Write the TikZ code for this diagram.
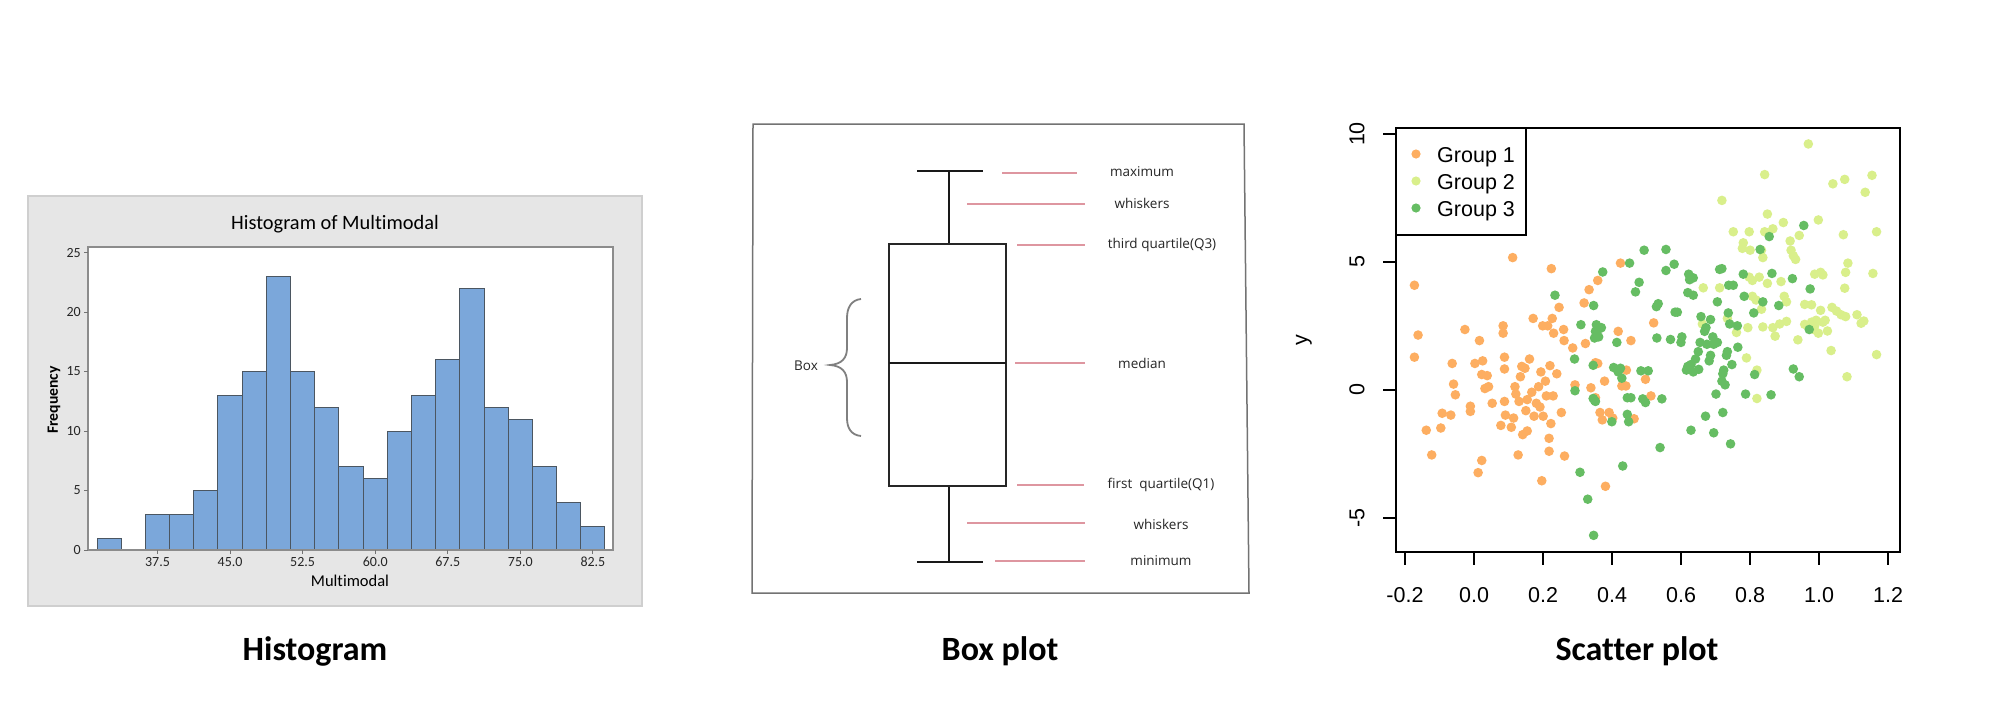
\documentclass[tikz,border=0pt]{standalone}
\usepackage{fontspec}
\newfontfamily\carlito[Ligatures=NoCommon]{Carlito}
\newfontfamily\opensans{Open Sans}
\newfontfamily\arialf{Liberation Sans}
\definecolor{panelgray}{HTML}{E6E6E6}
\definecolor{panelline}{HTML}{CFCFCF}
\definecolor{barblue}{HTML}{7BA7DA}
\definecolor{bardark}{HTML}{4B5661}
\definecolor{leadred}{RGB}{222,150,160}
\definecolor{gOne}{HTML}{FDAE61}
\definecolor{gTwo}{HTML}{D9EF8B}
\definecolor{gThree}{HTML}{66BD63}
\tikzset{
  hbar/.style={fill=barblue, draw=bardark, line width=1pt},
  htick/.style={font=\carlito\fontsize{14}{16}\selectfont, text=black!85, inner sep=0pt},
  bxlabel/.style={font=\opensans\fontsize{13.5}{16}\selectfont, anchor=base, text=black!85, inner sep=0pt},
  leader/.style={draw=leadred, line width=1.3pt},
  bxline/.style={draw=black!90, line width=2.6pt},
  caption/.style={font=\carlito\bfseries\fontsize{34}{40}\selectfont, anchor=base, inner sep=0pt},
  sctext/.style={font=\arialf\fontsize{21.5}{25}\selectfont, inner sep=0pt},
  gdotA/.style={fill=gOne},
  gdotB/.style={fill=gTwo},
  gdotC/.style={fill=gThree}
}
\begin{document}
\begin{tikzpicture}[x=1pt,y=-1pt]
\useasboundingbox (0,0) rectangle (2000,710);
\fill[white] (0,0) rectangle (2000,710);

% ================= Histogram =================
\draw[fill=panelgray, draw=panelline, line width=1.2pt] (28,196) rectangle (642,606);
\fill[white] (88,247) rectangle (613,550);
\node[font=\carlito\fontsize{20.4}{24}\selectfont, inner sep=0pt] (htitle) at (335,224) {Histogram of Multimodal};
\foreach \h [count=\i from 0] in {1,0,3,3,5,13,15,23,15,12,7,6,10,13,16,22,12,11,7,4,2}{
  \ifnum\h>0
    \draw[hbar] ({97+24.19*\i},550) rectangle ({97+24.19*(\i+1)},{550-11.9*\h});
  \fi
}
\draw[draw=black!45, line width=1.1pt] (88,247) rectangle (613,550);
\foreach \v [count=\k from 0] in {37.5,45.0,52.5,60.0,67.5,75.0,82.5}{
  \draw[black!55, line width=0.9pt] ({157.5+72.57*\k},550) -- ({157.5+72.57*\k},554);
  \node[htick] (hx\k) at ({157.5+72.57*\k},562) {\v};
}
\foreach \f [count=\k] in {0,5,10,15,20,25}{
  \draw[black!55, line width=0.9pt] (84,{550-11.9*\f}) -- (88,{550-11.9*\f});
  \node[htick, anchor=east] (hy\k) at (81,{550-11.9*\f}) {\f};
}
\node[font=\carlito\fontsize{16.5}{20}\selectfont, inner sep=0pt] (hxlab) at (350,581) {Multimodal};
\node[font=\carlito\bfseries\fontsize{15.7}{19}\selectfont, rotate=90, inner sep=0pt] (hylab) at (54,400) {Frequency};

% ================= Box plot =================
\draw[draw=black!55, line width=1.5pt] (753,124) -- (1244,124) -- (1249,593) -- (752,593) -- cycle;
\coordinate (wtop) at (949,171);
\coordinate (wbot) at (949,562);
\draw[bxline] (917,171) -- (983,171);
\draw[bxline] (917,562) -- (983,562);
\draw[bxline] (wtop) -- (949,244);
\draw[bxline] (949,486) -- (wbot);
\draw[draw=black!85, line width=2.8pt] (889,244) rectangle (1006,486);
\draw[draw=black!90, line width=2.4pt] (889,363) -- (1006,363);
% brace
\draw[draw=black!50, line width=1.8pt]
  (861,299) .. controls (851,300) and (847,308) .. (847,318)
  -- (847,348) .. controls (847,358) and (842,364) .. (830,365)
  .. controls (842,366) and (847,372) .. (847,382)
  -- (847,418) .. controls (847,428) and (851,435) .. (861,436);
\node[bxlabel] (lbox) at (806,370) {Box};
% labels
\node[bxlabel] (lmax) at (1142,176) {maximum};
\node[bxlabel] (lwh1) at (1142,208) {whiskers};
\node[bxlabel] (lq3) at (1162,248) {third quartile(Q3)};
\node[bxlabel] (lmed) at (1142,368) {median};
\node[bxlabel] (lq1) at (1161,488) {first~ quartile(Q1)};
\node[bxlabel] (lwh2) at (1161,529) {whiskers};
\node[bxlabel] (lmin) at (1161,565) {minimum};
\draw[leader] (1002,173) -- (1077,173);
\draw[leader] (967,204) -- (1085,204);
\draw[leader] (1017,245) -- (1085,245);
\draw[leader] (1015,363) -- (1085,363);
\draw[leader] (1017,485) -- (1084,485);
\draw[leader] (967,523) -- (1085,523);
\draw[leader] (995,561) -- (1085,561);

% ================= Scatter plot =================
\begin{scope}[shift={(1281.6,100.8)}, x=0.45485pt, y=-0.36888pt]
\foreach \p in {(292,500),(300,635),(292,695),(318,893),(330,960),(350,887),(353,847),(372,852),(375,712),(378,768),(382,797),(403,620),(415,828),(415,842),(425,712),(435,650),(432,1008),(440,975),(442,705),(440,742),(447,780),(452,745),(455,775),(463,820),(482,880),(487,610),(487,630),(490,695),(490,727),(490,815),(492,852),(505,885),(508,425),(510,860),(513,775),(515,795),(520,960),(522,815),(525,748),(528,720),(530,905),(535,725),(537,840),(540,895),(540,810),(545,700),(550,790),(553,590),(555,855),(560,820),(565,775),(568,830),(570,735),(572,1030),(574,610),(575,855),(580,760),(582,800),(585,610),(588,915),(588,950),(590,718),(592,875),(593,455),(595,590),(597,800),(598,630),(605,740),(610,560),(615,845),(620,620),(621,650),(622,963),(640,670),(645,770),(665,548),(668,658),(676,512),(680,778),(690,805),(695,487),(695,712),(700,845),(705,865),(710,760),(712,1045),(720,845),(728,860),(740,625),(745,440),(748,773),(758,730),(757,773),(768,650),(775,862),(800,755),(812,800),(818,602),(690,710)}
  \fill[gdotA] \p circle[radius=4.8pt];
\foreach \p in {(1158,117),(1062,200),(1298,202),(1212,225),(1238,213),(1283,248),(968,270),(1068,307),(1103,330),(1180,323),(993,355),(1028,355),(1062,355),(1080,347),(1138,365),(1235,363),(1308,355),(1015,385),(1118,380),(1013,400),(1030,405),(1055,405),(1058,425),(1120,405),(1125,420),(1130,430),(1245,440),(1172,470),(1185,465),(1190,472),(1240,465),(1300,468),(1028,478),(1035,487),(1050,478),(1068,495),(1098,490),(927,507),(963,507),(1238,508),(1035,530),(1043,540),(1105,530),(1110,545),(1055,565),(1150,552),(1165,553),(1185,568),(1210,560),(1220,570),(1230,580),(1240,585),(1265,580),(1280,597),(1274,603),(925,605),(1000,628),(1025,615),(1058,613),(1080,615),(1085,638),(1095,605),(1110,598),(1150,606),(1165,600),(1170,620),(1175,595),(1180,630),(1195,595),(1200,624),(1135,648),(1208,677),(1022,697),(1045,730),(1243,748),(1308,688),(1045,807),(980,590),(1172,610),(1190,600)}
  \fill[gdotB] \p circle[radius=4.8pt];
\foreach \p in {(601,527),(658,607),(686,555),(692,607),(688,643),(690,625),(700,617),(703,615),(697,640),(706,464),(644,700),(645,786),(685,717),(685,807),(690,815),(688,812),(656,1007),(673,1080),(686,1178),(730,723),(740,735),(748,752),(745,725),(737,655),(765,440),(786,492),(778,518),(790,732),(806,732),(760,805),(768,805),(797,405),(800,818),(794,808),(760,850),(763,870),(726,870),(750,990),(824,558),(828,550),(825,643),(836,808),(832,940),(845,403),(845,460),(855,647),(863,443),(865,573),(870,573),(878,655),(880,640),(893,520),(895,470),(897,485),(905,527),(905,480),(890,730),(893,720),(900,715),(905,735),(910,700),(917,728),(916,680),(920,655),(922,585),(930,625),(933,615),(940,705),(943,690),(935,660),(943,593),(948,640),(950,660),(958,545),(958,655),(963,457),(968,455),(970,740),(972,730),(968,760),(975,770),(978,690),(980,680),(982,575),(983,500),(985,605),(990,715),(993,500),(955,795),(970,845),(932,855),(900,893),(950,900),(987,930),(1003,668),(1002,610),(1015,470),(1017,530),(1020,795),(1038,575),(1040,742),(1052,403),(1058,545),(1072,368),(1078,468),(1076,797),(1093,555),(1123,482),(1125,727),(1138,748),(1148,338),(1162,510),(1160,620)}
  \fill[gdotC] \p circle[radius=4.8pt];
\end{scope}
\draw[line width=1.5pt] (1396,128) rectangle (1900,552);
% x axis
\draw[line width=1.5pt] (1405,552) -- (1888,552);
\foreach \v [count=\k from 0] in {-0.2,0.0,0.2,0.4,0.6,0.8,1.0,1.2}{
  \draw[line width=1.5pt] ({1405+69*\k},552) -- ({1405+69*\k},565);
  \node[sctext] (sx\k) at ({1405+69*\k},595) {\v};
}
% y axis
\foreach \v [count=\k] in {-5,0,5,10}{
  \draw[line width=1.5pt] (1383,{390-25.6*\v}) -- (1396,{390-25.6*\v});
  \node[sctext, rotate=90] (sy\k) at (1357,{390-25.6*\v}) {\v};
}
\node[sctext, rotate=90] (sylab) at (1304,340) {y};
% legend
\draw[fill=white, line width=1.5pt] (1396,128) rectangle (1526,235);
\fill[gOne] (1416,154) circle[radius=4.6pt];
\fill[gTwo] (1416,181) circle[radius=4.6pt];
\fill[gThree] (1416,208) circle[radius=4.6pt];
\node[sctext, anchor=base west] (lg1) at (1437,162) {Group 1};
\node[sctext, anchor=base west] (lg2) at (1437,189) {Group 2};
\node[sctext, anchor=base west] (lg3) at (1437,216) {Group 3};

% ================= Captions =================
\node[caption] (c1) at (315,660) {Histogram};
\node[caption] (c2) at (1000,660) {Box plot};
\node[caption] (c3) at (1637,660) {Scatter plot};
\end{tikzpicture}
\end{document}
